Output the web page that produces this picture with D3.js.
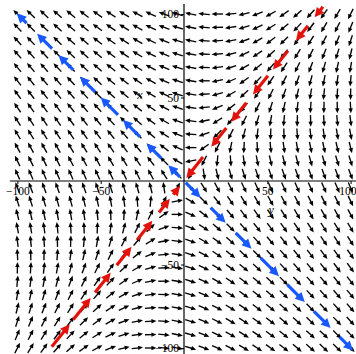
<!DOCTYPE html>
<html><head><meta charset="utf-8">
<script src="https://cdn.jsdelivr.net/npm/d3@7"></script>
<style>body{margin:0;background:#fff}svg{display:block}</style>
</head><body><svg id="c" width="356" height="354"></svg>
<script>
// ---- data ----
const systemMatrix = [[2, -4], [-5, 1]];           // x' = A x
const gridValues = [-100,-92,-84,-76,-68,-60,-52,-44,-36,-28,-20,-12,-4,4,12,20,28,36,44,52,60,68,76,84,92,100];
const xTickValues = [-100, -50, 50, 100];
const yTickValues = [-100, -50, 50, 100];
// eigen-direction arrows: [tailX, tailY, tipX, tipY]
const blueArrows = [
  [-94.5, 94.5, -100.4, 100.4], [-79.2, 79.2, -88.2, 88.2], [-66.5, 66.5, -75.3, 75.3],
  [-53.4, 53.4, -62.4, 62.4], [-39.6, 39.6, -50, 50], [-26.4, 26.4, -36.6, 36.6],
  [-13.5, 13.5, -22.4, 22.4], [-2.5, 2.5, -9.4, 9.4],
  [1, -1, 10, -10], [16, -16, 25, -25], [31, -31, 40.5, -40.5], [46, -46, 57, -57],
  [62, -62, 72.5, -72.5], [78, -78, 88, -88], [93.5, -93.5, 101.5, -101.5]
];
const redArrows = [
  [83.4, 104.3, 78.4, 98], [74.4, 93, 67.2, 84], [62.4, 78, 53.4, 66.8], [50.4, 63, 41.4, 51.8],
  [37.4, 46.8, 28.4, 35.5], [25.4, 31.8, 16.4, 20.5], [11.4, 14.3, 1.4, 1.8],
  [-79.4, -99.3, -68.6, -85.8], [-66.4, -83, -56, -70], [-53.4, -66.8, -44, -55],
  [-40.4, -50.5, -31.5, -39.4], [-28, -35, -19, -23.8], [-15, -18.8, -8.5, -10.6], [-6.5, -8.1, -2.4, -3]
];
const axisLabels = [{text: "x", x: -26.5, y: 51.5}, {text: "y", x: 52.3, y: -17}];

// ---- drawing ----
const svg = d3.select("#c");
const x = d3.scaleLinear().domain([-100, 100]).range([17.4, 350.6]);
const y = d3.scaleLinear().domain([-100, 100]).range([348, 14]);

// direction field
const fieldG = svg.append("g");
const L = 11.5, headL = 5, headW = 4.4;
gridValues.forEach(gx => gridValues.forEach(gy => {
  const vx = systemMatrix[0][0]*gx + systemMatrix[0][1]*gy;
  const vy = systemMatrix[1][0]*gx + systemMatrix[1][1]*gy;
  let dx = x(gx + vx) - x(gx), dy = y(gy + vy) - y(gy);
  const n = Math.hypot(dx, dy); if (!n) return;
  dx /= n; dy /= n;
  const cx = x(gx), cy = y(gy);
  const tx = cx - dx*L/2, ty = cy - dy*L/2, hx = cx + dx*L/2, hy = cy + dy*L/2;
  const bx = hx - dx*headL, by = hy - dy*headL;
  fieldG.append("line").attr("x1", tx).attr("y1", ty).attr("x2", bx + dx).attr("y2", by + dy)
    .attr("stroke", "#000").attr("stroke-width", 1.35);
  fieldG.append("path").attr("d", `M${hx},${hy}L${bx - dy*headW/2},${by + dx*headW/2}L${bx + dy*headW/2},${by - dx*headW/2}Z`)
    .attr("fill", "#000");
}));

// axes
const axG = svg.append("g");
axG.append("line").attr("x1", x(-104.5)).attr("x2", x(104)).attr("y1", y(0)).attr("y2", y(0))
  .attr("stroke", "#000").attr("stroke-width", 1);
axG.append("line").attr("x1", x(0)).attr("x2", x(0)).attr("y1", y(106)).attr("y2", y(-104))
  .attr("stroke", "#000").attr("stroke-width", 1.2);
const fmt = d3.format("d");
const xAxis = svg.append("g").attr("transform", `translate(0,${y(0)})`)
  .call(d3.axisBottom(x).tickValues(xTickValues).tickSize(3).tickFormat(fmt));
const yAxis = svg.append("g").attr("transform", `translate(${x(0)},0)`)
  .call(d3.axisLeft(y).tickValues(yTickValues).tickSize(3).tickFormat(fmt));
[xAxis, yAxis].forEach(a => {
  a.select(".domain").remove();
  a.selectAll("text").attr("font-family", "'Liberation Serif', 'Times New Roman', serif")
    .attr("font-size", 11.5).attr("fill", "#000");
  a.selectAll("line").attr("stroke", "#000");
});
xAxis.selectAll("text").attr("dy", "0.75em").attr("y", 5);
xAxis.selectAll(".tick").filter(d => d === 100).select("text").attr("text-anchor", "end").attr("x", 5.4);
yAxis.selectAll("text").attr("x", -5);

// eigen-direction arrows
function bigArrows(data, color) {
  const g = svg.append("g");
  const hl = 9.5, hw = 9.5;
  data.forEach(d => {
    const x1 = x(d[0]), y1 = y(d[1]), x2 = x(d[2]), y2 = y(d[3]);
    let dx = x2 - x1, dy = y2 - y1; const n = Math.hypot(dx, dy); dx /= n; dy /= n;
    const bx = x2 - dx*hl, by = y2 - dy*hl;
    if (n > hl) g.append("line").attr("x1", x1).attr("y1", y1).attr("x2", bx + dx).attr("y2", by + dy)
      .attr("stroke", color).attr("stroke-width", 3.2);
    g.append("path").attr("d", `M${x2},${y2}L${bx - dy*hw/2},${by + dx*hw/2}L${bx + dy*hw/2},${by - dx*hw/2}Z`)
      .attr("fill", color);
  });
}
bigArrows(blueArrows, "#1758ff");
bigArrows(redArrows, "#e3120b");

svg.append("g").selectAll("text").data(axisLabels).join("text")
  .attr("x", d => x(d.x)).attr("y", d => y(d.y)).attr("text-anchor", "middle").attr("dy", "0.35em")
  .attr("font-family", "'Liberation Serif', 'Times New Roman', serif").attr("font-style", "italic")
  .attr("font-size", 12).text(d => d.text);
</script>
</body></html>
